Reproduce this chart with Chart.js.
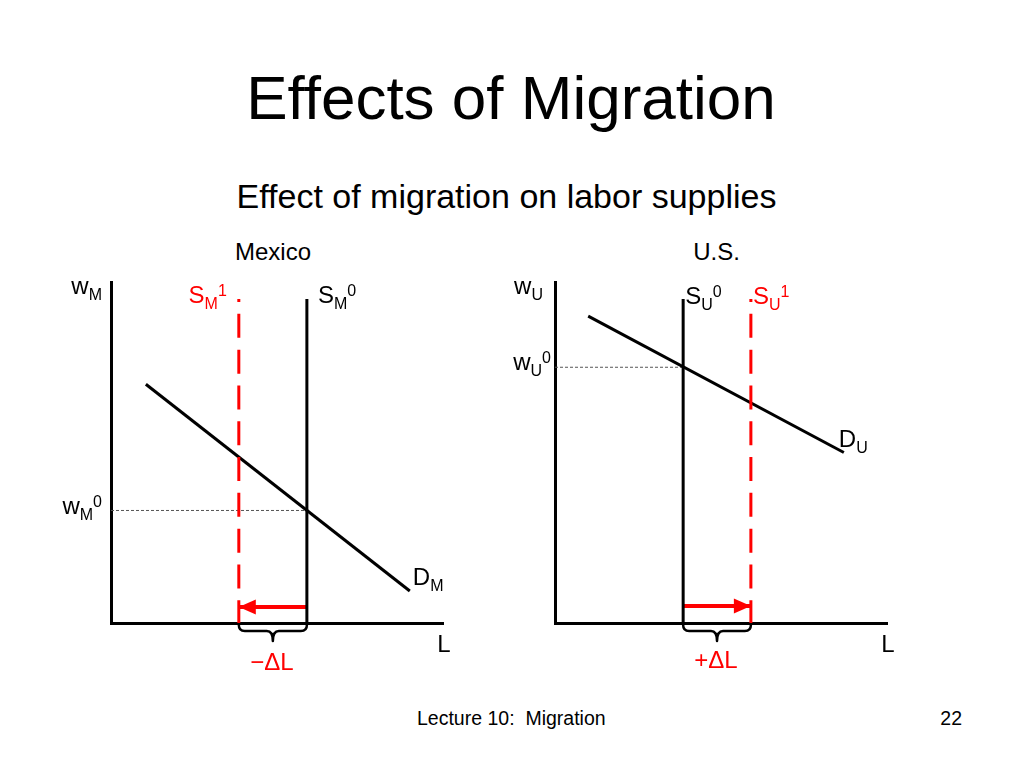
<!DOCTYPE html>
<html>
<head>
<meta charset="utf-8">
<script src="https://cdn.jsdelivr.net/npm/chart.js@4.4.1/dist/chart.umd.min.js"></script>
<style>
html,body{margin:0;padding:0;background:#fff;}
body{width:1024px;height:768px;position:relative;overflow:hidden;font-family:"Liberation Sans",Arial,Helvetica,sans-serif;color:#000;}
.t{position:absolute;white-space:pre;line-height:1;}
canvas{position:absolute;}
</style>
</head>
<body>
<div class="t" style="left:0;width:1022px;text-align:center;top:66.5px;font-size:62px;">Effects of Migration</div>
<div class="t" style="left:0;width:1013px;text-align:center;top:179.2px;font-size:34px;">Effect of migration on labor supplies</div>
<div class="t" id="p0" style="left:173px;width:200px;text-align:center;top:239.7px;font-size:24px;"></div>
<div class="t" id="p1" style="left:616.5px;width:200px;text-align:center;top:239.7px;font-size:24px;"></div>
<div class="t" style="left:417px;top:708.5px;font-size:19.5px;">Lecture 10:  Migration</div>
<div class="t" style="right:62px;top:708.5px;font-size:19.5px;">22</div>
<canvas id="mex" width="440" height="420" style="left:40px;top:270px;"></canvas>
<canvas id="us" width="440" height="420" style="left:484px;top:270px;"></canvas>
<script>
// ---------- data (economic units: L on x, w on y) ----------
const panelNames = ['Mexico', 'U.S.'];
const axisRange = [0, 10];

// Mexico: emigration shifts supply left
const mexSupplyL = [5.9, 3.85];     // S_M^0, S_M^1
const mexSupplyTopW = 9.5;
const mexDemandL = [1.05, 9.0];
const mexDemandW = [7.0, 0.94];
const mexWage0 = 3.3;

// U.S.: immigration shifts supply right
const usSupplyL = [3.86, 5.9];      // S_U^0, S_U^1
const usSupplyTopW = 9.5;
const usDemandL = [1.0, 8.7];
const usDemandW = [9.0, 5.0];
const usWage0 = 7.5;

const shiftArrowW = [0.47, 0.5];    // height of the shift arrows
const deltaLabels = ['\u2212\u0394L', '+\u0394L'];

// ---------- styling ----------
const FONT = '"Liberation Sans", Arial, Helvetica, sans-serif';
const RED = '#ff0000';

document.getElementById('p0').textContent = panelNames[0];
document.getElementById('p1').textContent = panelNames[1];

function drawRich(ctx, parts, x, y, align, color) {
  const sizes = { m: 24, sub: 16, sup: 16 };
  const shift = { m: 0, sub: 6, sup: -7 };
  let total = 0;
  parts.forEach(p => { ctx.font = sizes[p[1]] + 'px ' + FONT; total += ctx.measureText(p[0]).width; });
  let cx = align === 'right' ? x - total : (align === 'center' ? x - total / 2 : x);
  ctx.fillStyle = color;
  ctx.textBaseline = 'alphabetic';
  ctx.textAlign = 'left';
  parts.forEach(p => {
    ctx.font = sizes[p[1]] + 'px ' + FONT;
    ctx.fillText(p[0], cx, y + shift[p[1]]);
    cx += ctx.measureText(p[0]).width;
  });
}

function makeChart(id, cfg) {
  const s0 = cfg.supply[0], s1 = cfg.supply[1];
  const datasets = [
    { data: [{x: s0, y: cfg.top}, {x: s0, y: 0}], borderColor: '#000', borderWidth: 3 },
    { data: [{x: s1, y: cfg.top}, {x: s1, y: 0}], borderColor: RED, borderWidth: 3, borderDash: [24, 11.8], borderDashOffset: 21 },
    { data: [{x: cfg.demandL[0], y: cfg.demandW[0]}, {x: cfg.demandL[1], y: cfg.demandW[1]}], borderColor: '#000', borderWidth: 3 },
    { data: [{x: s0, y: cfg.arrowW}, {x: s1, y: cfg.arrowW}], borderColor: RED, borderWidth: 4, arrowHead: true },
    { data: [{x: axisRange[0], y: cfg.wage0}, {x: s0, y: cfg.wage0}], borderColor: '#555', borderWidth: 1, borderDash: [3, 2] }
  ].map(d => Object.assign({ showLine: true, pointRadius: 0, pointHoverRadius: 0, fill: false, clip: false, tension: 0 }, d));

  const decor = {
    id: 'decor',
    afterDatasetsDraw(chart) {
      const ctx = chart.ctx;
      const xs = chart.scales.x, ys = chart.scales.y;
      // arrow heads
      chart.data.datasets.forEach((ds, i) => {
        if (!ds.arrowHead) return;
        const pts = chart.getDatasetMeta(i).data;
        const a = pts[pts.length - 2], b = pts[pts.length - 1];
        const ang = Math.atan2(b.y - a.y, b.x - a.x);
        ctx.save();
        ctx.translate(b.x, b.y);
        ctx.rotate(ang);
        ctx.beginPath();
        ctx.moveTo(0, 0);
        ctx.lineTo(-17, -7.5);
        ctx.lineTo(-17, 7.5);
        ctx.closePath();
        ctx.fillStyle = ds.borderColor;
        ctx.fill();
        ctx.restore();
      });
      // brace under the axis between the two supply curves
      const xa = Math.min(xs.getPixelForValue(s0), xs.getPixelForValue(s1));
      const xb = Math.max(xs.getPixelForValue(s0), xs.getPixelForValue(s1));
      const y0 = ys.getPixelForValue(0);
      const yh = y0 + 8, tip = y0 + 18, r = 6, mid = (xa + xb) / 2;
      ctx.save();
      ctx.strokeStyle = '#000';
      ctx.lineWidth = 2.5;
      ctx.lineJoin = 'round';
      ctx.beginPath();
      ctx.moveTo(xa, y0);
      ctx.lineTo(xa, yh - r);
      ctx.quadraticCurveTo(xa, yh, xa + r, yh);
      ctx.lineTo(mid - r, yh);
      ctx.quadraticCurveTo(mid, yh, mid, tip);
      ctx.quadraticCurveTo(mid, yh, mid + r, yh);
      ctx.lineTo(xb - r, yh);
      ctx.quadraticCurveTo(xb, yh, xb, yh - r);
      ctx.lineTo(xb, y0);
      ctx.stroke();
      ctx.restore();
      // labels
      cfg.labels.forEach(l => {
        const px = xs.getPixelForValue(l.ax) + l.dx;
        const py = ys.getPixelForValue(l.ay) + l.dy;
        drawRich(ctx, l.parts, px, py, l.align, l.color || '#000');
      });
    }
  };

  return new Chart(document.getElementById(id), {
    type: 'scatter',
    data: { datasets },
    options: {
      responsive: false,
      animation: false,
      events: [],
      layout: { autoPadding: false, padding: { left: 71, top: 12, right: 37, bottom: 67 } },
      plugins: { legend: { display: false }, tooltip: { enabled: false } },
      scales: {
        x: { type: 'linear', min: axisRange[0], max: axisRange[1],
             ticks: { display: false }, grid: { display: false, drawTicks: false },
             border: { display: true, color: '#000', width: 3 } },
        y: { type: 'linear', min: axisRange[0], max: axisRange[1],
             ticks: { display: false }, grid: { display: false, drawTicks: false },
             border: { display: true, color: '#000', width: 3 } }
      }
    },
    plugins: [decor]
  });
}

makeChart('mex', {
  supply: mexSupplyL, top: mexSupplyTopW, demandL: mexDemandL, demandW: mexDemandW,
  wage0: mexWage0, arrowW: shiftArrowW[0],
  labels: [
    { parts: [['w','m'],['M','sub']], ax: 0, ay: axisRange[1], dx: -9, dy: 12, align: 'right' },
    { parts: [['w','m'],['M','sub'],['0','sup']], ax: 0, ay: mexWage0, dx: -9, dy: 4, align: 'right' },
    { parts: [['S','m'],['M','sub'],['1','sup']], ax: mexSupplyL[1], ay: mexSupplyTopW, dx: -12, dy: 4, align: 'right', color: RED },
    { parts: [['S','m'],['M','sub'],['0','sup']], ax: mexSupplyL[0], ay: mexSupplyTopW, dx: 11, dy: 4, align: 'left' },
    { parts: [['D','m'],['M','sub']], ax: mexDemandL[1], ay: mexDemandW[1], dx: 3, dy: -6, align: 'left' },
    { parts: [['L','m']], ax: axisRange[1], ay: 0, dx: 1, dy: 29, align: 'center' },
    { parts: [[deltaLabels[0],'m']], ax: (mexSupplyL[0] + mexSupplyL[1]) / 2, ay: 0, dx: -1, dy: 47, align: 'center', color: RED }
  ]
});

makeChart('us', {
  supply: usSupplyL, top: usSupplyTopW, demandL: usDemandL, demandW: usDemandW,
  wage0: usWage0, arrowW: shiftArrowW[1],
  labels: [
    { parts: [['w','m'],['U','sub']], ax: 0, ay: axisRange[1], dx: -12, dy: 12, align: 'right' },
    { parts: [['w','m'],['U','sub'],['0','sup']], ax: 0, ay: usWage0, dx: -4, dy: 3, align: 'right' },
    { parts: [['S','m'],['U','sub'],['0','sup']], ax: usSupplyL[0], ay: usSupplyTopW, dx: 2, dy: 5, align: 'left' },
    { parts: [['S','m'],['U','sub'],['1','sup']], ax: usSupplyL[1], ay: usSupplyTopW, dx: 2, dy: 5, align: 'left', color: RED },
    { parts: [['D','m'],['U','sub']], ax: usDemandL[1], ay: usDemandW[1], dx: -5, dy: -6, align: 'left' },
    { parts: [['L','m']], ax: axisRange[1], ay: 0, dx: 1, dy: 29, align: 'center' },
    { parts: [[deltaLabels[1],'m']], ax: (usSupplyL[0] + usSupplyL[1]) / 2, ay: 0, dx: -1, dy: 45, align: 'center', color: RED }
  ]
});
</script>
</body>
</html>
